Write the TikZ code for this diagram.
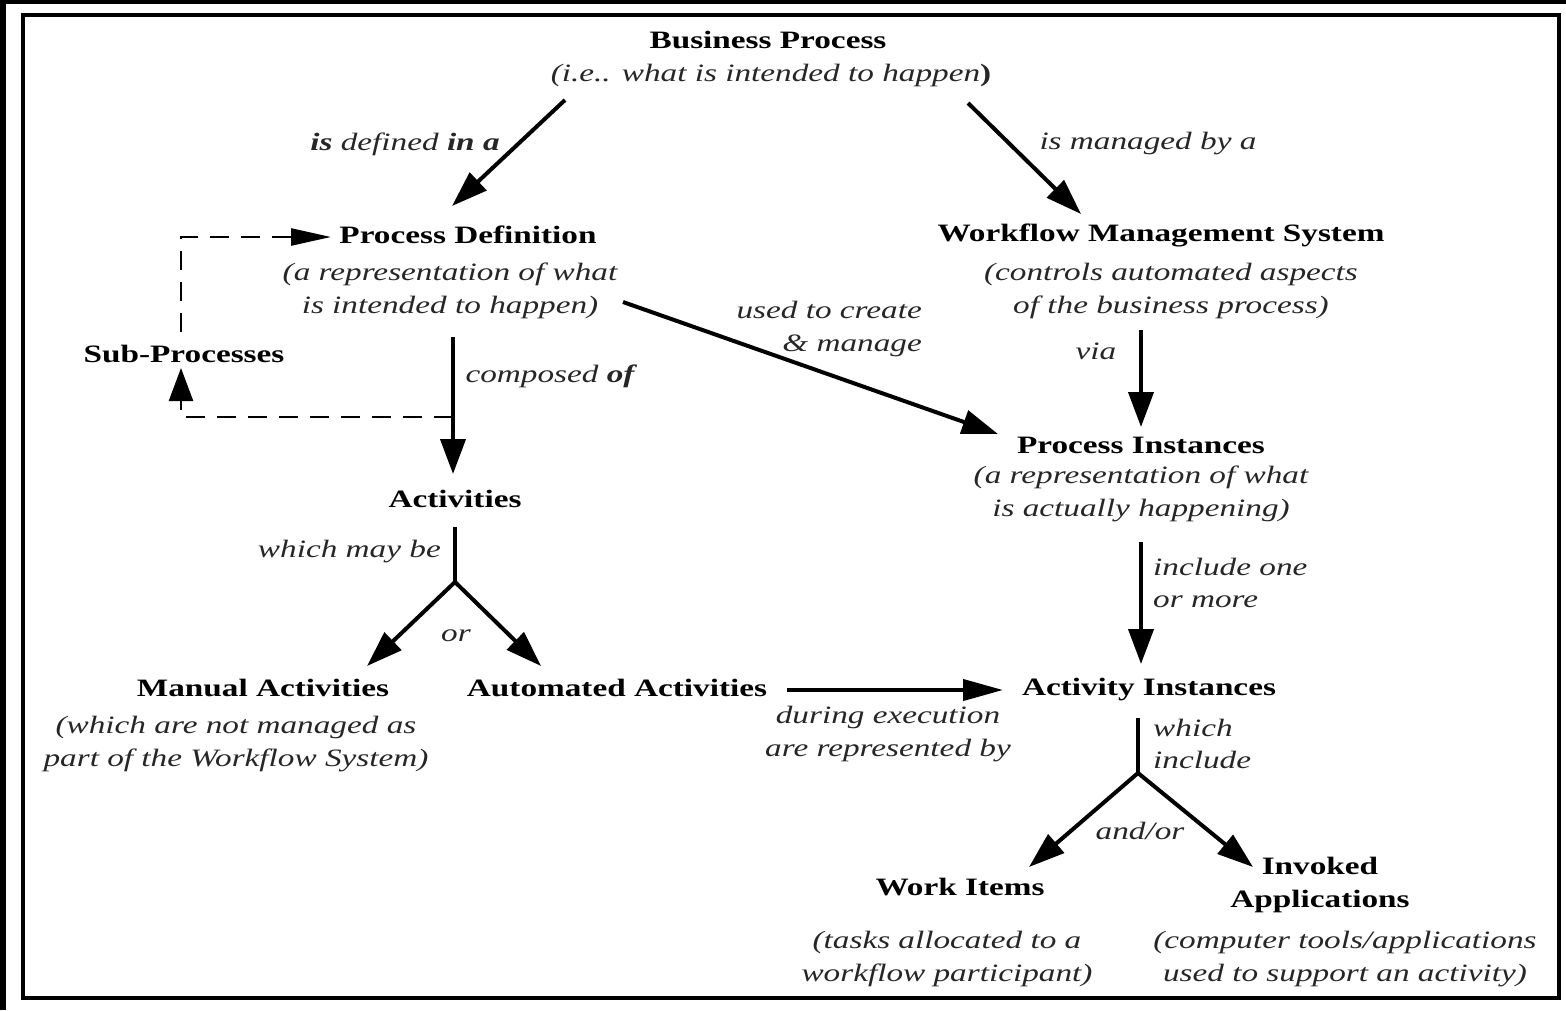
\documentclass[tikz,border=0pt]{standalone}
\usepackage{fontspec}
\setmainfont{Liberation Serif}[FakeStretch=1.33]
\usetikzlibrary{arrows.meta}
\begin{document}
\begin{tikzpicture}[x=1pt,y=-1pt,
  every node/.style={inner sep=0pt},
  title/.style={font=\fontsize{25}{33}\selectfont\bfseries, align=center},
  desc/.style={font=\fontsize{25}{32.5}\selectfont\itshape, align=center, text=black!85},
  lbl/.style={desc},
  flow/.style={line width=4pt, -{Triangle[length=36pt,width=24pt]}},
  hflow/.style={flow, -{Triangle[length=40pt,width=21pt]}},
  vflow/.style={flow, -{Triangle[length=35pt,width=25pt]}},
  stem/.style={line width=4pt},
  loop/.style={line width=2.5pt, dash pattern=on 19pt off 12pt},
  hloop/.style={loop, -{Triangle[length=40pt,width=17pt]}},
  vloop/.style={loop, -{Triangle[length=33pt,width=24pt]}}
]
\useasboundingbox (0,0) rectangle (1566,1010);
% page edges and frame
\fill (0,0) rectangle (1566,4);
\fill (0,0) rectangle (6,1010);
\draw[line width=3.5pt] (23,15) rectangle (1559,998);

% concepts
\node[title] (bp)   at (768,40)  {Business Process};
\node[desc]  (bpd)  at (771,75)  {(i.e.. what is intended to happen{\upshape\bfseries )}};
\node[title] (pd)   at (468,235) {Process Definition};
\node[desc]  (pdd)  at (450,291) {(a representation of what\\is intended to happen)};
\node[title] (wms)  at (1161,235) {Workflow Management System};
\node[desc]  (wmsd) at (1171,291) {(controls automated aspects\\of the business process)};
\node[title] (sub)  at (184,354) {Sub-Processes};
\node[title] (pi)   at (1141,445) {Process Instances};
\node[desc]  (pid)  at (1141,494) {(a representation of what\\is actually happening)};
\node[title] (act)  at (455,499) {Activities};
\node[title] (man)  at (263,688) {Manual Activities};
\node[desc]  (mand) at (236,744) {(which are not managed as\\part of the Workflow System)};
\node[title] (auto) at (617,688) {Automated Activities};
\node[title] (ai)   at (1149,690) {Activity Instances};
\node[title] (wi)   at (960,887) {Work Items};
\node[desc]  (wid)  at (947,959) {(tasks allocated to a\\workflow participant)};
\node[title] (ia)   at (1320,885) {Invoked\\Applications};
\node[desc]  (iad)  at (1345,959) {(computer tools/applications\\used to support an activity)};

% relation labels
\node[lbl] (defl)   at (405,144) {\textbf{is} defined \textbf{in a}};
\node[lbl] (manl)   at (1148,144) {is managed by a};
\node[lbl] (compl)  at (550,376) {composed \textbf{of}};
\node[lbl, align=right, anchor=east] (usel) at (922,329) {used to create\\\& manage};
\node[lbl] (vial)   at (1096,351) {via};
\node[lbl, align=left, anchor=west] (incl) at (1153,583) {include one\\or more};
\node[lbl, anchor=east] (mayl) at (441,552) {which may be};
\node[lbl] (orl)    at (456,636) {or};
\node[lbl] (execl)  at (888,734) {during execution\\are represented by};
\node[lbl, align=left, anchor=west] (whl) at (1153,744) {which\\include};
\node[lbl] (andl)   at (1140,831) {and/or};

% connector ends
\coordinate (bp-l)   at (565,100);
\coordinate (bp-r)   at (968,103);
\coordinate (pd-in)  at (452,206);
\coordinate (wms-in) at (1081,214);
\coordinate (pd-dn)  at (453,337);
\coordinate (act-in) at (453,474);
\coordinate (pd-out) at (623,302);
\coordinate (pi-in)  at (998,434);
\coordinate (wms-dn) at (1141,330);
\coordinate (pi-top) at (1141,427);
\coordinate (pi-dn)  at (1141,542);
\coordinate (ai-top) at (1141,664);
\coordinate (act-dn) at (455,527);
\coordinate (act-fork) at (455,582);
\coordinate (man-in) at (367,666);
\coordinate (auto-in) at (541,666);
\coordinate (auto-out) at (787,690);
\coordinate (ai-in)  at (1003,690);
\coordinate (ai-dn)  at (1138,718);
\coordinate (ai-fork) at (1138,773);
\coordinate (wi-in)  at (1029,867);
\coordinate (ia-in)  at (1253,867);
\coordinate (sub-up) at (181,332);
\coordinate (pd-lt)  at (331,237);
\coordinate (pd-tap) at (453,417);
\coordinate (sub-dn) at (181,368);

% connectors
\draw[flow] (bp-l) -- (pd-in);
\draw[flow] (bp-r) -- (wms-in);
\draw[vflow] (pd-dn) -- (act-in);
\draw[flow] (pd-out) -- (pi-in);
\draw[vflow] (wms-dn) -- (pi-top);
\draw[vflow] (pi-dn) -- (ai-top);
\draw[stem] (act-dn) -- (act-fork);
\draw[flow] (act-fork) -- (man-in);
\draw[flow] (act-fork) -- (auto-in);
\draw[hflow] (auto-out) -- (ai-in);
\draw[stem] (ai-dn) -- (ai-fork);
\draw[flow] (ai-fork) -- (wi-in);
\draw[flow] (ai-fork) -- (ia-in);
\draw[hloop] (sub-up) |- (pd-lt);
\draw[vloop] (pd-tap) -| (sub-dn);
\end{tikzpicture}
\end{document}
